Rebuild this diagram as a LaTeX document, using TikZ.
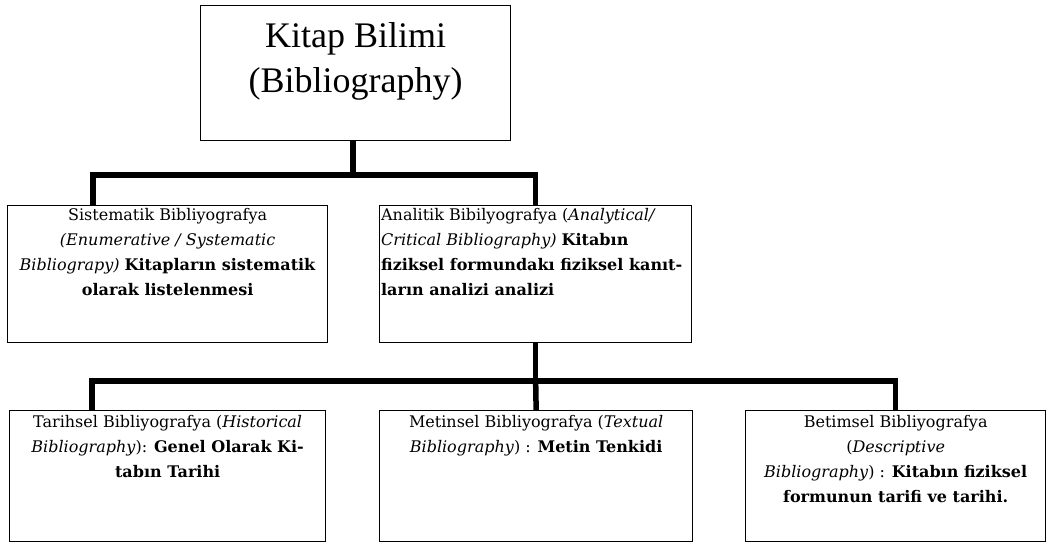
\documentclass[tikz,border=0pt]{standalone}
\usepackage{fontspec}
\setmainfont{DejaVu Serif}
\newfontfamily\titlefont{Liberation Serif}
\newcommand\mybx[4]{\parbox[c][#2pt][t]{#1pt}{\vspace*{#3pt}#4}}
\begin{document}
\begin{tikzpicture}[x=1pt,y=-1pt,
  bx/.style={draw, line width=1.3pt, inner xsep=2pt, inner ysep=0pt, anchor=north west},
  conn/.style={line width=5.5pt},
  body/.style={font=\fontsize{16}{25}\selectfont}]
\useasboundingbox (0,0) rectangle (1051,547);

\node[bx, inner xsep=0pt] (top) at (200,5)
  {\mybx{310}{135}{17}{\centering\titlefont\fontsize{36}{45}\selectfont Kitap Bilimi\\(Bibliography)}};

\node[bx, body] (sys) at (7,205)
  {\mybx{316}{137}{3}{\centering Sistematik Bibliyografya\\
  \textit{(Enumerative / Systematic}\\
  \textit{Bibliograpy)} \textbf{Kitapların sistematik}\\
  \textbf{olarak listelenmesi}}};

\node[bx, body, inner xsep=1.5pt] (ana) at (379,205)
  {\mybx{309}{137}{3}{\raggedright\mbox{Analitik Bibilyografya (\textit{Analytical/}}\\
  \mbox{\textit{Critical Bibliography)} \textbf{Kitabın}}\\
  \mbox{\textbf{fiziksel formundakı fiziksel kanıt-}}\\
  \mbox{\textbf{ların analizi analizi}}}};

\node[bx, body] (tar) at (9,410)
  {\mybx{312}{131}{5}{\centering Tarihsel Bibliyografya (\textit{Historical}\\
  \textit{Bibliography}): \textbf{Genel Olarak Ki-}\\
  \textbf{tabın Tarihi}}};

\node[bx, body] (met) at (379,410)
  {\mybx{309}{131}{5}{\centering Metinsel Bibliyografya (\textit{Textual}\\
  \textit{Bibliography}) : \textbf{Metin Tenkidi}}};

\node[bx, body] (bet) at (745,410)
  {\mybx{296}{131}{5}{\centering Betimsel Bibliyografya\\
  (\textit{Descriptive}\\
  \textit{Bibliography}) : \textbf{Kitabın fiziksel}\\
  \textbf{formunun tarifi ve tarihi.}}};

% level 1 -> level 2
\coordinate (j1) at (353,175);
\coordinate (d1) at ([xshift=86pt]sys.north west);
\draw[conn] (top.south -| j1) -- (j1);
\draw[conn] (d1) |- (j1) -| (ana.north);

% level 2 -> level 3
\coordinate (j2) at (ana.south |- 0,381);
\coordinate (d2) at ([xshift=83pt]tar.north west);
\draw[conn] (ana.south) -- (j2);
\draw[conn] (d2) |- (j2) -| (bet.north);
\draw[conn] (j2) -- (met.north);
\end{tikzpicture}
\end{document}
